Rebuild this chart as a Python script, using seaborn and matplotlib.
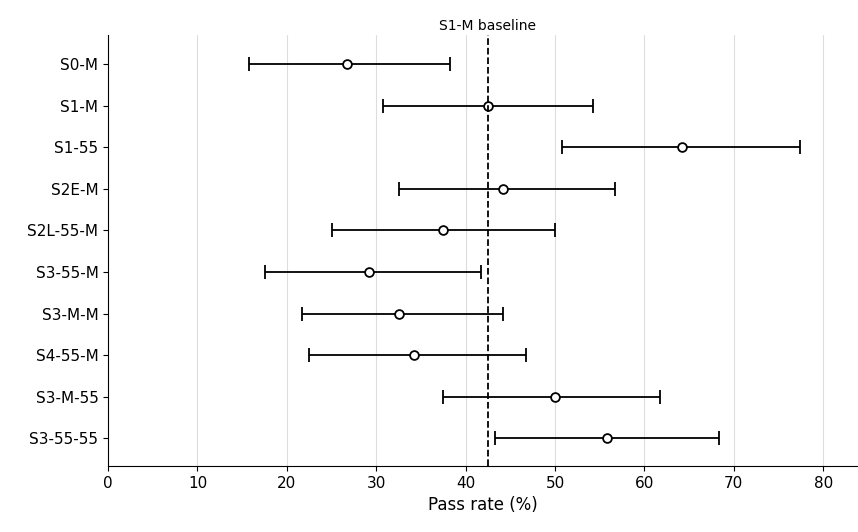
import numpy as np
import pandas as pd
import matplotlib
matplotlib.use("Agg")
import matplotlib.pyplot as plt
import seaborn as sns

# configs and pass rates (%) with interval bounds
configs = ["S0-M", "S1-M", "S1-55", "S2E-M", "S2L-55-M",
           "S3-55-M", "S3-M-M", "S4-55-M", "S3-M-55", "S3-55-55"]
rate = [26.7, 42.5, 64.2, 44.2, 37.5, 29.2, 32.5, 34.2, 50.0, 55.8]
low = [15.8, 30.8, 50.8, 32.5, 25.0, 17.5, 21.7, 22.5, 37.5, 43.3]
high = [38.3, 54.2, 77.4, 56.7, 50.0, 41.7, 44.2, 46.7, 61.7, 68.3]
baseline = 42.5


def main():
    sns.set_style("ticks", {"axes.edgecolor": "black", "text.color": "black",
                            "axes.labelcolor": "black", "xtick.color": "black",
                            "ytick.color": "black"})
    plt.rcParams['font.family'] = ['DejaVu Sans']

    df = pd.DataFrame({"config": configs, "rate": rate, "low": low, "high": high})
    df["pos"] = np.arange(len(df))

    fig, ax = plt.subplots(figsize=(8.58, 5.32), dpi=100)
    fig.subplots_adjust(left=0.126, right=0.999, top=0.934, bottom=0.124)

    # vertical grid only
    ax.grid(axis="x", color="#dddddd", linewidth=0.8)
    ax.set_axisbelow(True)

    xerr = np.vstack([df.rate - df.low, df.high - df.rate])
    ax.errorbar(df.rate, df.pos, xerr=xerr, fmt="none", ecolor="black",
                elinewidth=1.3, capsize=5, capthick=1.3, zorder=2)
    sns.scatterplot(data=df, x="rate", y="pos", ax=ax, color="white",
                    edgecolor="black", linewidth=1.3, s=40, zorder=3, legend=False)

    ax.axvline(baseline, color="black", linestyle="--", linewidth=1.3, zorder=4)
    ax.text(baseline, 1.005, "S1-M baseline", transform=ax.get_xaxis_transform(),
            ha="center", va="bottom", fontsize=10)

    ax.set_yticks(df.pos)
    ax.set_yticklabels(df.config, fontsize=11)
    ax.set_ylim(len(df) - 0.33, -0.7)
    ax.set_xlim(0, 83.8)
    ax.set_xticks(range(0, 81, 10))
    ax.tick_params(axis="x", labelsize=11)
    ax.set_xlabel("Pass rate (%)", fontsize=12)
    ax.set_ylabel("")
    sns.despine(ax=ax)

    fig.savefig("out.png", dpi=100)


main()
